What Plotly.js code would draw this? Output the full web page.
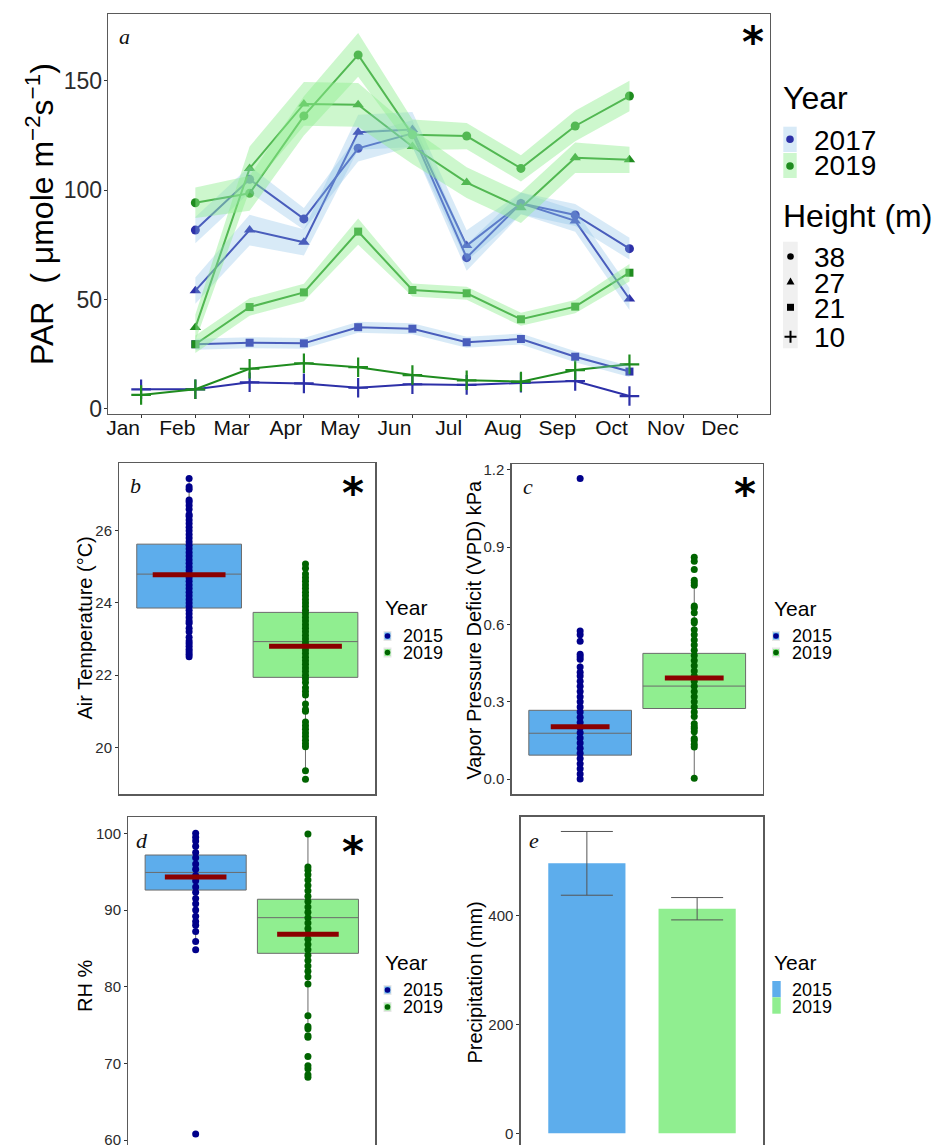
<!DOCTYPE html>
<html>
<head>
<meta charset="utf-8">
<script src="https://cdn.plot.ly/plotly-3.0.1.min.js"></script>
<style>html,body{margin:0;padding:0;background:#fff;overflow:hidden}#chart{width:942px;height:1145px}</style>
</head>
<body>
<div id="chart"></div>
<script>
// ---------------- Panel a data (PAR by month, year, height) ----------------
const months = ['Jan','Feb','Mar','Apr','May','Jun','Jul','Aug','Sep','Oct','Nov','Dec'];
const obsMonths = ['Jan','Feb','Mar','Apr','May','Jun','Jul','Aug','Sep','Oct'];

const par2017_38 = [null, 81.8, 105.0, 86.9, 119.2, 126.0, 69.2, 94.0, 88.7, 73.3];
const par2017_27 = [null, 54.1, 81.8, 76.2, 126.5, 127.8, 74.7, 94.0, 86.0, 50.3];
const par2017_21 = [null, 29.6, 30.3, 30.0, 37.4, 36.7, 30.5, 32.0, 23.9, 17.1];
const par2017_10 = [9.0, 9.0, 12.2, 11.7, 9.7, 11.3, 11.0, 12.0, 12.8, 5.9];
const par2019_38 = [null, 94.3, 98.6, 134.0, 161.9, 125.4, 124.8, 110.0, 129.4, 143.1];
const par2019_27 = [null, 37.2, 110.0, 139.5, 139.1, 120.0, 103.5, 92.0, 114.9, 113.9];
const par2019_21 = [null, 29.6, 46.6, 53.3, 81.1, 54.4, 52.9, 41.0, 46.8, 62.3];
const par2019_10 = [6.4, 9.0, 18.4, 20.9, 19.1, 15.5, 13.1, 12.5, 17.8, 20.4];

// ribbon half-widths (standard error band)
const se2017_38 = [null, 6, 6, 5, 6, 6, 6, 5, 5, 5];
const se2017_27 = [null, 6, 7, 6, 8, 8, 7, 5, 5, 5];
const se2017_21 = [null, 2.5, 2.5, 2.5, 2.5, 2.5, 2.5, 2.5, 2.5, 2.5];
const se2019_38 = [null, 7, 8, 9, 10, 7, 6, 6, 7, 7];
const se2019_27 = [null, 6, 10, 10, 10, 8, 7, 7, 7, 6];
const se2019_21 = [null, 4, 4, 4, 6, 3, 3, 3, 3, 4];

const parTicks = [0, 50, 100, 150];

// ---------------- Panels b-e data ----------------
const years = ['2015', '2019'];

const temp2015 = [22.51, 22.58, 22.65, 22.72, 22.8, 22.88, 22.95, 23.05, 23.2, 23.3, 23.44, 23.5, 23.6, 23.7, 23.8, 23.9, 24.0, 24.1, 24.2, 24.3, 24.4, 24.5, 24.6, 24.7, 24.8, 24.9, 25.0, 25.1, 25.2, 25.3, 25.4, 25.5, 25.6, 25.7, 25.8, 25.9, 26.0, 26.1, 26.2, 26.3, 26.4, 26.45, 26.6, 26.7, 26.8, 26.85, 27.15, 27.22, 27.45];
const temp2019 = [19.12, 19.35, 20.02, 20.1, 20.2, 20.3, 20.4, 20.5, 20.6, 20.7, 21.0, 21.05, 21.2, 21.45, 21.55, 21.65, 21.8, 21.9, 22.0, 22.1, 22.2, 22.3, 22.4, 22.5, 22.6, 22.7, 22.8, 22.9, 23.0, 23.1, 23.2, 23.3, 23.4, 23.5, 23.6, 23.7, 23.8, 23.9, 24.0, 24.1, 24.2, 24.3, 24.4, 24.5, 24.6, 24.7, 24.8, 24.96, 25.08];
const tempQ1 = [23.86, 21.94], tempMedian = [24.8, 22.93], tempQ3 = [25.63, 23.74];
const tempLow = [22.51, 19.35], tempHigh = [27.45, 25.08], tempMean = [24.78, 22.8];

const vpd2015 = [0.0, 0.02, 0.04, 0.06, 0.08, 0.10, 0.12, 0.14, 0.16, 0.18, 0.20, 0.22, 0.24, 0.26, 0.28, 0.30, 0.32, 0.34, 0.36, 0.38, 0.40, 0.415, 0.435, 0.465, 0.475, 0.485, 0.535, 0.56, 0.575, 1.167];
const vpd2019 = [0.003, 0.125, 0.135, 0.15, 0.158, 0.184, 0.195, 0.203, 0.215, 0.243, 0.26, 0.28, 0.30, 0.32, 0.34, 0.36, 0.38, 0.40, 0.42, 0.44, 0.46, 0.48, 0.50, 0.52, 0.54, 0.56, 0.58, 0.607, 0.615, 0.646, 0.665, 0.672, 0.752, 0.762, 0.772, 0.814, 0.846, 0.861];
const vpdQ1 = [0.093, 0.274], vpdMedian = [0.178, 0.361], vpdQ3 = [0.267, 0.488];
const vpdLow = [0.0, 0.003], vpdHigh = [0.485, 0.772], vpdMean = [0.203, 0.392];

const rh2015 = [60.8, 84.8, 85.9, 87.2, 88.0, 88.5, 89.2, 90.0, 90.8, 91.5, 92.3, 93.0, 93.8, 94.5, 95.3, 96.0, 96.8, 97.5, 98.3, 99.0, 99.5, 100.0];
const rh2019 = [68.2, 68.5, 69.3, 69.7, 70.9, 73.4, 73.6, 74.5, 74.8, 76.2, 80.35, 81.3, 82.0, 82.7, 83.4, 84.1, 84.8, 85.5, 86.2, 86.9, 87.6, 88.3, 89.0, 89.7, 90.4, 91.1, 91.8, 92.5, 93.2, 93.9, 94.6, 95.2, 95.6, 99.9];
const rhQ1 = [92.6, 84.35], rhMedian = [94.9, 89.0], rhQ3 = [97.17, 91.4];
const rhLow = [85.9, 74.6], rhHigh = [100.0, 99.9], rhMean = [94.3, 86.83];

const precip = [495.4, 412.1];
const precipErr = [58.5, 20.5];

// ---------------- styling ----------------
const W = 942, H = 1145;
const FONT = 'Liberation Sans, Arial, sans-serif';
const SERIF = 'Liberation Serif, Times New Roman, serif';
const BLUE_LINE = '#2d30a8', GREEN_LINE = '#1f8c1f';
const BLUE_RIB = 'rgba(135,190,230,0.32)', GREEN_RIB = 'rgba(144,238,144,0.45)';
const BOX_BLUE = '#5DADEC', BOX_GREEN = '#90EE90';
const PT_BLUE = '#00008B', PT_GREEN = '#006400';
const MEAN_RED = '#8B0000';
const FRAME = '#5a5a5a';

const px = x => x / W;
const py = y => 1 - y / H;

const monthX = obsMonths.map(m => months.indexOf(m) + 1);
const traces = [];

const series = [
  {v: par2017_38, se: se2017_38, c: BLUE_LINE, r: BLUE_RIB, sym: 'circle', sz: 9},
  {v: par2017_27, se: se2017_27, c: BLUE_LINE, r: BLUE_RIB, sym: 'triangle-up', sz: 10},
  {v: par2017_21, se: se2017_21, c: BLUE_LINE, r: BLUE_RIB, sym: 'square', sz: 8},
  {v: par2017_10, se: null, c: BLUE_LINE, r: BLUE_RIB, sym: 'cross-thin', sz: 14},
  {v: par2019_38, se: se2019_38, c: GREEN_LINE, r: GREEN_RIB, sym: 'circle', sz: 9},
  {v: par2019_27, se: se2019_27, c: GREEN_LINE, r: GREEN_RIB, sym: 'triangle-up', sz: 10},
  {v: par2019_21, se: se2019_21, c: GREEN_LINE, r: GREEN_RIB, sym: 'square', sz: 8},
  {v: par2019_10, se: null, c: GREEN_LINE, r: GREEN_RIB, sym: 'cross-thin', sz: 14}
];

series.forEach(s => {
  const isCross = s.sym === 'cross-thin';
  traces.push({
    type: 'scatter', mode: 'lines+markers', x: monthX, y: s.v,
    xaxis: 'x', yaxis: 'y', showlegend: false, hoverinfo: 'skip',
    line: {color: s.c, width: 2},
    marker: isCross ? {symbol: s.sym, size: s.sz, line: {color: s.c, width: 2.2}}
                    : {symbol: s.sym, size: s.sz, color: s.c}
  });
});
series.forEach(s => {
  if (!s.se) return;
  const xs = [], lo = [], hi = [];
  s.v.forEach((val, i) => {
    if (val === null) return;
    xs.push(monthX[i]); lo.push(val - s.se[i]); hi.push(val + s.se[i]);
  });
  traces.push({type: 'scatter', mode: 'lines', x: xs, y: lo, line: {width: 0, color: 'rgba(0,0,0,0)'},
    xaxis: 'x', yaxis: 'y', showlegend: false, hoverinfo: 'skip'});
  traces.push({type: 'scatter', mode: 'lines', x: xs, y: hi, line: {width: 0, color: 'rgba(0,0,0,0)'},
    fill: 'tonexty', fillcolor: s.r, xaxis: 'x', yaxis: 'y', showlegend: false, hoverinfo: 'skip'});
});

function boxPanel(ax, q1, med, q3, lo, hi, mean, pts, meanW) {
  const fills = [BOX_BLUE, BOX_GREEN];
  const ptc = [PT_BLUE, PT_GREEN];
  years.forEach((yr, i) => {
    traces.push({type: 'box', x: [yr], q1: [q1[i]], median: [med[i]], q3: [q3[i]],
      lowerfence: [lo[i]], upperfence: [hi[i]], width: 0.9, whiskerwidth: 0,
      fillcolor: fills[i], line: {color: '#6b6b6b', width: 1}, boxpoints: false,
      xaxis: 'x' + ax, yaxis: 'y' + ax, showlegend: false, hoverinfo: 'skip'});
  });
  years.forEach((yr, i) => {
    traces.push({type: 'scatter', mode: 'markers', x: pts[i].map(() => yr), y: pts[i],
      marker: {color: ptc[i], size: 7}, xaxis: 'x' + ax, yaxis: 'y' + ax, showlegend: false, hoverinfo: 'skip'});
  });
  traces.push({type: 'scatter', mode: 'markers', x: years, y: mean,
    marker: {symbol: 'line-ew', size: meanW, line: {color: MEAN_RED, width: 5}},
    xaxis: 'x' + ax, yaxis: 'y' + ax, showlegend: false, hoverinfo: 'skip'});
}
boxPanel(2, tempQ1, tempMedian, tempQ3, tempLow, tempHigh, tempMean, [temp2015, temp2019], 52);
boxPanel(3, vpdQ1, vpdMedian, vpdQ3, vpdLow, vpdHigh, vpdMean, [vpd2015, vpd2019], 42);
boxPanel(4, rhQ1, rhMedian, rhQ3, rhLow, rhHigh, rhMean, [rh2015, rh2019], 44);

traces.push({type: 'bar', x: years, y: precip, width: 0.7,
  marker: {color: [BOX_BLUE, BOX_GREEN], line: {width: 0}},
  error_y: {type: 'data', array: precipErr, visible: true, color: '#555', thickness: 1, width: 26},
  xaxis: 'x5', yaxis: 'y5', showlegend: false, hoverinfo: 'skip'});

// ---------------- axes ----------------
const frame = {showline: true, mirror: true, linecolor: FRAME, linewidth: 1.3, showgrid: false, zeroline: false};
function yAxis(domain, range, tickvals, fsTick, fmt) {
  return Object.assign({}, frame, {domain: domain, range: range, tickvals: tickvals,
    tickformat: fmt || '', ticks: 'outside', ticklen: 3, tickcolor: '#333',
    ticklabeloverflow: 'allow',
    tickfont: {family: FONT, size: fsTick, color: '#2b2b2b'}});
}
function xCat(domain, anchor) {
  return Object.assign({}, frame, {domain: domain, type: 'category', categoryorder: 'array',
    categoryarray: years, range: [-0.6, 1.6], showticklabels: false, ticks: '', anchor: anchor});
}

const layout = {
  width: W, height: H, margin: {l: 0, r: 0, t: 0, b: 0},
  paper_bgcolor: '#fff', plot_bgcolor: '#fff', showlegend: false,
  font: {family: FONT},
  xaxis: Object.assign({}, frame, {domain: [px(108), px(770)], range: [0.39, 12.59],
    tickvals: months.map((m, i) => i + 1), ticktext: months, ticks: 'outside', ticklen: 3, tickcolor: '#333',
    ticklabelshift: -18, ticklabelstandoff: -9,
    tickfont: {family: FONT, size: 21, color: '#111'}, anchor: 'y'}),
  yaxis: Object.assign(yAxis([py(414), py(14)], [-2.3, 180.6], parTicks, 23), {anchor: 'x', ticklabelstandoff: -3}),
  xaxis2: xCat([px(119.3), px(375.3)], 'y2'),
  yaxis2: Object.assign(yAxis([py(794.3), py(463.3)], [18.70, 27.87], [20, 22, 24, 26], 15), {anchor: 'x2'}),
  xaxis3: xCat([px(511.7), px(762.7)], 'y3'),
  yaxis3: Object.assign(yAxis([py(794.3), py(464)], [-0.059, 1.223], [0, 0.3, 0.6, 0.9, 1.2], 15, '.1f'), {anchor: 'x3'}),
  xaxis4: xCat([px(128.3), px(375.3)], 'y4'),
  yaxis4: Object.assign(yAxis([0, py(817.3)], [59.35, 102.09], [60, 70, 80, 90, 100], 15), {anchor: 'x4'}),
  xaxis5: xCat([px(520.7), px(763.3)], 'y5'),
  yaxis5: Object.assign(yAxis([0, py(816.7)], [-21.5, 581], [0, 200, 400], 15), {anchor: 'x5'}),
  annotations: [],
  shapes: []
};

// ---------------- axis titles (rotated text) ----------------
function ytitle(t, x, y, size) {
  layout.annotations.push({text: t, xref: 'paper', yref: 'paper', x: px(x), y: py(y),
    xanchor: 'center', yanchor: 'middle', textangle: -90, showarrow: false,
    font: {family: FONT, size: size, color: '#000'}});
}
ytitle('PAR  ( μmole m<sup>−2</sup>s<sup>−1</sup>)', 40, 214, 32);
ytitle('Air Temperature (°C)', 84.5, 628, 20);
ytitle('Vapor Pressure Deficit (VPD) kPa', 473.5, 630, 20);
ytitle('RH %', 85, 986, 20);
ytitle('Precipitation (mm)', 475, 982.5, 20);

// ---------------- panel labels & significance stars ----------------
function label(t, x, y) {
  layout.annotations.push({text: t, xref: 'paper', yref: 'paper', x: px(x), y: py(y),
    xanchor: 'center', yanchor: 'middle', showarrow: false,
    font: {family: SERIF, size: 22, color: '#111', style: 'italic'}});
}
function star(x, y) {
  layout.annotations.push({text: '*', xref: 'paper', yref: 'paper', x: px(x), y: py(y + 9),
    xanchor: 'center', yanchor: 'middle', showarrow: false,
    font: {family: 'DejaVu Sans, sans-serif', size: 42, color: '#000', weight: 'bold'}});
}
label('a', 124, 36); star(752.7, 33.3);
label('b', 135, 485); star(353.3, 484.3);
label('c', 528.3, 486.7); star(745, 485.7);
label('d', 141.7, 840); star(352.7, 843.3);
label('e', 534, 840);

// ---------------- legends (text + key glyphs) ----------------
function ltext(t, x, y, size) {
  layout.annotations.push({text: t, xref: 'paper', yref: 'paper', x: px(x), y: py(y),
    xanchor: 'left', yanchor: 'middle', showarrow: false, borderpad: 0,
    font: {family: FONT, size: size, color: '#000'}});
}
function rect(x0, y0, x1, y1, fill) {
  layout.shapes.push({type: 'rect', xref: 'paper', yref: 'paper', x0: px(x0), x1: px(x1), y0: py(y1), y1: py(y0),
    fillcolor: fill, line: {width: 0}});
}
function dot(cx, cy, r, fill) {
  layout.shapes.push({type: 'circle', xref: 'paper', yref: 'paper', x0: px(cx - r), x1: px(cx + r), y0: py(cy + r), y1: py(cy - r),
    fillcolor: fill, line: {width: 0}});
}
function pathShape(d, fill, line) {
  layout.shapes.push({type: 'path', xref: 'paper', yref: 'paper', path: d, fillcolor: fill,
    line: line ? {color: line, width: 2} : {width: 0}});
}
const P = (x, y) => px(x) + ',' + py(y);

// panel a legend
ltext('Year', 781.5, 98, 32);
rect(783.3, 126.7, 796.7, 152, 'rgba(135,190,230,0.32)');
rect(783.3, 153, 796.7, 178, 'rgba(144,238,144,0.45)');
dot(790, 139.3, 3.8, BLUE_LINE);
dot(790, 166, 3.8, GREEN_LINE);
ltext('2017', 812.5, 140.5, 28);
ltext('2019', 812.5, 166, 28);
ltext('Height (m)', 781.5, 216, 32);
rect(783, 241.7, 797.7, 348.3, '#f0f0f0');
dot(790.5, 256.5, 3.3, '#000');
pathShape('M' + P(786.5, 284.5) + ' L' + P(794.5, 284.5) + ' L' + P(790.5, 277.5) + ' Z', '#000');
rect(787, 303.8, 794, 310.8, '#000');
pathShape('M' + P(784.5, 336.7) + ' L' + P(796.5, 336.7) + ' M' + P(790.5, 330.7) + ' L' + P(790.5, 342.7), 'rgba(0,0,0,0)', '#000');
ltext('38', 812.5, 258, 28);
ltext('27', 812.5, 283, 28);
ltext('21', 812.5, 308.5, 28);
ltext('10', 812.5, 337, 28);

// box legends
function boxLegend(x, yTitle, y1, y2) {
  ltext('Year', x, yTitle, 21);
  rect(x - 0.5, y1 - 5, x + 7.5, y1 + 5, '#e6e6e6');
  rect(x - 0.5, y2 - 5, x + 7.5, y2 + 5, '#e6e6e6');
  rect(x + 0.5, y1 - 3.5, x + 6.5, y1 + 3.5, BOX_BLUE);
  rect(x + 0.5, y2 - 3.5, x + 6.5, y2 + 3.5, BOX_GREEN);
  dot(x + 3.5, y1, 2.8, PT_BLUE);
  dot(x + 3.5, y2, 2.8, PT_GREEN);
  ltext('2015', x + 18, y1, 18);
  ltext('2019', x + 18, y2, 18);
}
boxLegend(384, 607.4, 636, 652.5);
boxLegend(772.5, 608.3, 636, 652.5);
boxLegend(384, 962.7, 990, 1007);

// bar legend
ltext('Year', 772.5, 962, 21);
rect(772.3, 981, 780.7, 997.3, BOX_BLUE);
rect(772.3, 997.3, 780.7, 1013.7, BOX_GREEN);
ltext('2015', 791, 990, 18);
ltext('2019', 791, 1006.5, 18);

Plotly.newPlot('chart', traces, layout, {displayModeBar: false, staticPlot: true});
</script>
</body>
</html>
